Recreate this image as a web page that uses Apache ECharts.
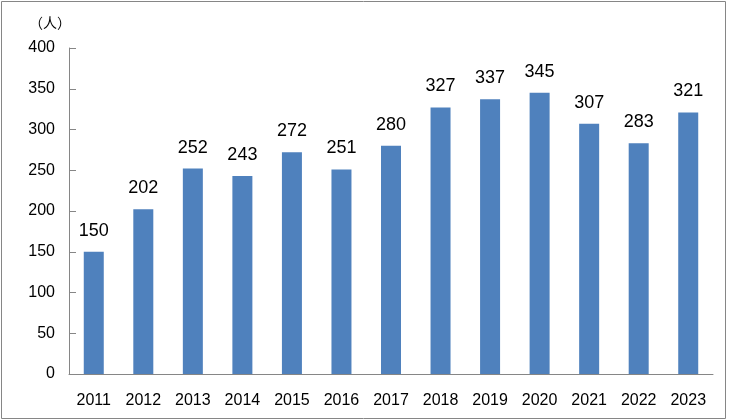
<!DOCTYPE html>
<html>
<head>
<meta charset="utf-8">
<script src="https://cdn.jsdelivr.net/npm/echarts@6/dist/echarts.min.js"></script>
<style>
  html, body { margin: 0; padding: 0; background: #fff; }
  #chart { width: 731px; height: 420px; }
</style>
</head>
<body>
<div id="chart"></div>
<script>
// 年份
var years = ['2011', '2012', '2013', '2014', '2015', '2016', '2017', '2018', '2019', '2020', '2021', '2022', '2023']
// 人数
var counts = [150, 202, 252, 243, 272, 251, 280, 327, 337, 345, 307, 283, 321]
var yTicks = { min: 0, max: 400, interval: 50 }

var axisColor = '#868686'
var fontFamily = 'Liberation Sans, DejaVu Sans, sans-serif'

var myChart = echarts.init(document.getElementById('chart'))
var option = {
  animation: false,
  graphic: [
    {
      type: 'rect',
      shape: { x: 1.5, y: 1.5, width: 724, height: 417 },
      style: { fill: 'none', stroke: axisColor, lineWidth: 1 }
    },
    {
      type: 'text',
      left: 29,
      top: 16,
      style: { text: '（人）', fontSize: 14, fill: '#000', fontFamily: 'Noto Sans CJK SC' }
    }
  ],
  grid: { left: 69, right: 18, top: 48, bottom: 46 },
  xAxis: {
    type: 'category',
    data: years,
    axisLine: { lineStyle: { color: axisColor } },
    axisTick: { length: 8, lineStyle: { color: axisColor } },
    axisLabel: { color: '#000', fontSize: 16, fontFamily: fontFamily, margin: 19 }
  },
  yAxis: {
    type: 'value',
    min: yTicks.min,
    max: yTicks.max,
    interval: yTicks.interval,
    splitLine: { show: false },
    axisLine: { show: true, lineStyle: { color: axisColor } },
    axisTick: { show: true, inside: true, length: 7, lineStyle: { color: axisColor } },
    axisLabel: { color: '#000', fontSize: 16, fontFamily: fontFamily, margin: 14 }
  },
  series: [
    {
      type: 'bar',
      data: counts,
      barWidth: 20,
      itemStyle: { color: '#4F81BD' },
      label: {
        show: true,
        position: 'top',
        distance: 12,
        color: '#000',
        fontSize: 18,
        fontFamily: fontFamily
      }
    }
  ]
}
myChart.setOption(option)
</script>
</body>
</html>
